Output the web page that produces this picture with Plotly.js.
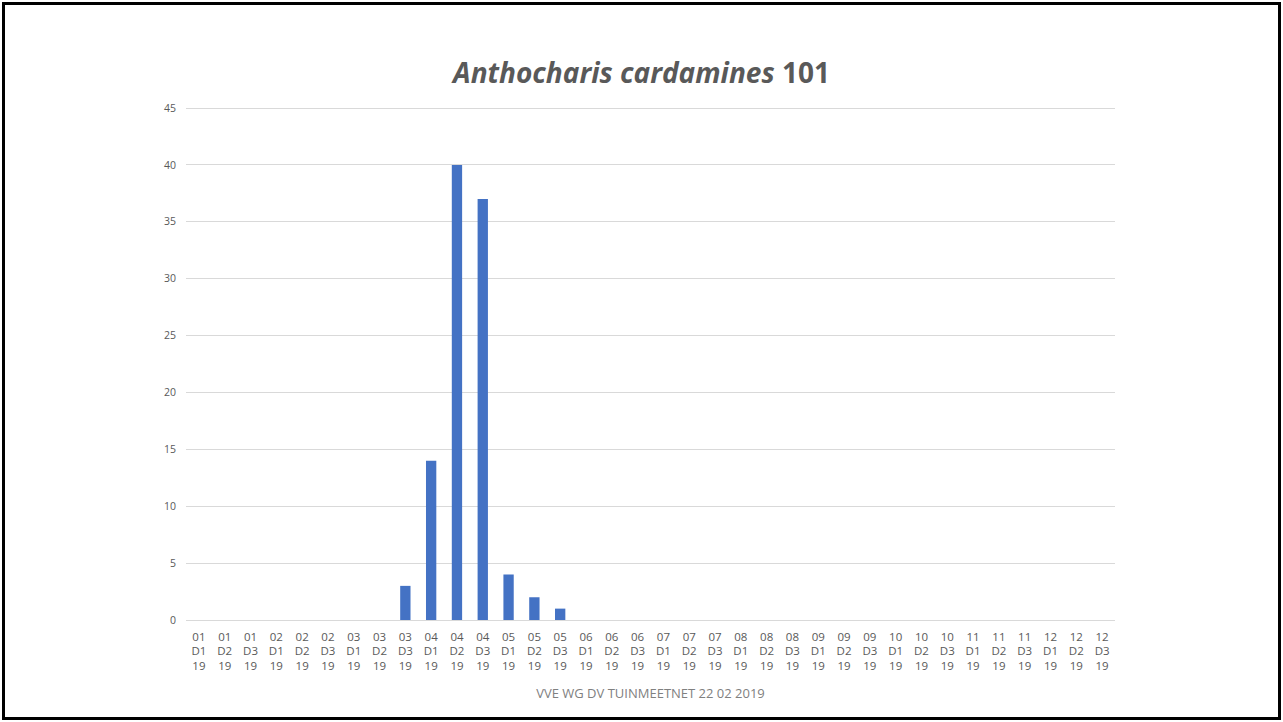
<!DOCTYPE html>
<html>
<head>
<meta charset="utf-8">
<script src="https://cdn.plot.ly/plotly-3.0.1.min.js"></script>
<style>
  html, body { margin: 0; padding: 0; background: #fff; }
  #frame { position: absolute; left: 2px; top: 2px; width: 1279px; height: 718px; box-sizing: border-box; border: 3px solid #000; }
  #chart { position: absolute; left: 0; top: 0; width: 1283px; height: 722px; }
</style>
</head>
<body>
<div id="chart"></div>
<div id="frame"></div>
<script>
const months = ["01","02","03","04","05","06","07","08","09","10","11","12"];
const decades = ["D1","D2","D3"];
const yearLabel = "19";
const categories = [];
months.forEach(m => decades.forEach(d => categories.push(m + "<br>" + d + "<br>" + yearLabel)));
const counts = [0,0,0, 0,0,0, 0,0,3, 14,40,37, 4,2,1, 0,0,0, 0,0,0, 0,0,0, 0,0,0, 0,0,0, 0,0,0, 0,0,0];

const trace = {
  type: "bar",
  x: categories,
  y: counts,
  marker: { color: "#4472C4" },
  hoverinfo: "x+y"
};

const layout = {
  width: 1283, height: 722,
  margin: { l: 186, r: 168, t: 106, b: 102 },
  paper_bgcolor: "#fff", plot_bgcolor: "#fff",
  bargap: 0.6,
  showlegend: false,
  font: { family: "Open Sans, Liberation Sans, sans-serif", color: "#595959" },
  title: {
    text: "<b><i>Anthocharis cardamines</i> 101</b>",
    font: { size: 28, color: "#595959", family: "Open Sans, sans-serif" },
    x: 0.5, xanchor: "center", y: 0.899, yanchor: "middle"
  },
  xaxis: {
    type: "category",
    tickfont: { size: 11.5, color: "#595959" },
    tickangle: 0,
    showgrid: false,
    showline: false,
    zeroline: false,
    ticks: "",
    ticklabelstandoff: 8,
    title: { text: "VVE WG DV TUINMEETNET 22 02 2019", font: { size: 13, color: "#808080" }, standoff: 16 }
  },
  yaxis: {
    range: [0, 45.18],
    tickvals: [0,5,10,15,20,25,30,35,40,45],
    tickfont: { size: 10.5, color: "#595959" },
    gridcolor: "#D9D9D9",
    gridwidth: 1,
    zeroline: true,
    zerolinecolor: "#D9D9D9",
    showline: false,
    ticks: "",
    ticklabelstandoff: 9
  }
};

Plotly.newPlot("chart", [trace], layout, { displayModeBar: false, staticPlot: true });
</script>
</body>
</html>
